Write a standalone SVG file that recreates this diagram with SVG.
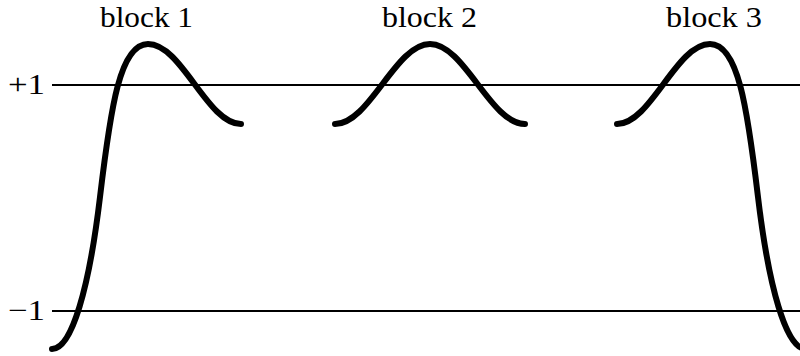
<svg xmlns="http://www.w3.org/2000/svg" width="800" height="356" viewBox="0 0 800 356">
<style>
.axis{stroke:#000;stroke-width:2;fill:none}
.wave{stroke:#000;stroke-width:6;fill:none;stroke-linecap:round;stroke-linejoin:round}
text{font-family:"Liberation Serif","DejaVu Serif",serif;font-size:30px;fill:#000}
.lvl{font-size:29px}
</style>
<rect width="800" height="356" fill="#fff"/>
<g id="levels">
<line class="axis" x1="52" y1="85" x2="800" y2="85"/>
<line class="axis" x1="52" y1="311" x2="800" y2="311"/>
<text class="lvl" x="8" y="94" textLength="37" lengthAdjust="spacingAndGlyphs">+1</text>
<text class="lvl" x="8" y="320" textLength="37" lengthAdjust="spacingAndGlyphs">−1</text>
</g>
<g id="block1">
<path class="wave" d="M52,349 C72,349 89.3,287 100,197 C110.7,107 120,44 148,44 C181.8,44 207.2,124 241,124"/>
<text x="100" y="27" textLength="93" lengthAdjust="spacingAndGlyphs">block 1</text>
</g>
<g id="block2">
<path class="wave" d="M335,124 C369.5,124 395.5,44 430,44 C464.5,44 490.5,124 525,124"/>
<text x="382" y="27" textLength="95" lengthAdjust="spacingAndGlyphs">block 2</text>
</g>
<g id="block3">
<path class="wave" d="M617,124 C650.8,124 676.2,44 710,44 C738,44 747.3,107 758,197 C768.7,287 786,349 806,349"/>
<text x="666" y="27" textLength="96" lengthAdjust="spacingAndGlyphs">block 3</text>
</g>
</svg>
